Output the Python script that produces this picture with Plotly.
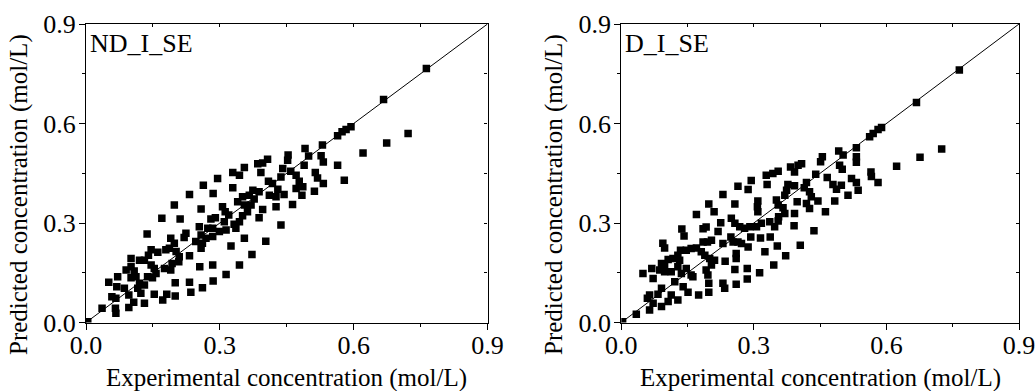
import plotly.graph_objects as go

FONT = "Liberation Serif"

nd_exp = [0.004, 0.594, 0.583, 0.574, 0.564, 0.530, 0.491, 0.499, 0.527, 0.532, 0.453, 0.452, 0.564, 0.579, 0.441, 0.459, 0.471, 0.489, 0.514, 0.519, 0.532, 0.478, 0.486, 0.471, 0.512, 0.484, 0.463, 0.437, 0.437, 0.418, 0.430, 0.444, 0.426, 0.411, 0.426, 0.409, 0.407, 0.396, 0.385, 0.355, 0.392, 0.329, 0.344, 0.295, 0.329, 0.285, 0.263, 0.232, 0.198, 0.258, 0.211, 0.170, 0.137, 0.374, 0.388, 0.366, 0.351, 0.377, 0.340, 0.355, 0.370, 0.362, 0.351, 0.344, 0.332, 0.336, 0.396, 0.388, 0.306, 0.312, 0.320, 0.290, 0.280, 0.310, 0.314, 0.299, 0.284, 0.273, 0.254, 0.258, 0.269, 0.284, 0.261, 0.258, 0.246, 0.224, 0.220, 0.190, 0.198, 0.187, 0.202, 0.209, 0.208, 0.232, 0.193, 0.190, 0.179, 0.161, 0.146, 0.140, 0.131, 0.120, 0.146, 0.153, 0.157, 0.149, 0.138, 0.131, 0.120, 0.116, 0.123, 0.101, 0.101, 0.090, 0.108, 0.112, 0.101, 0.086, 0.096, 0.071, 0.069, 0.051, 0.058, 0.067, 0.066, 0.067, 0.036, 0.096, 0.107, 0.131, 0.153, 0.172, 0.181, 0.200, 0.200, 0.232, 0.235, 0.261, 0.285, 0.255, 0.284, 0.314, 0.344, 0.325, 0.355, 0.372, 0.403, 0.176, 0.621, 0.674, 0.722, 0.667, 0.763]
nd_pred = [0.002, 0.590, 0.582, 0.575, 0.563, 0.535, 0.525, 0.502, 0.503, 0.484, 0.505, 0.489, 0.474, 0.429, 0.464, 0.456, 0.444, 0.474, 0.452, 0.436, 0.419, 0.426, 0.409, 0.404, 0.396, 0.384, 0.356, 0.294, 0.439, 0.419, 0.402, 0.386, 0.379, 0.384, 0.349, 0.426, 0.492, 0.481, 0.479, 0.467, 0.452, 0.452, 0.444, 0.434, 0.406, 0.389, 0.414, 0.386, 0.354, 0.342, 0.312, 0.314, 0.267, 0.399, 0.394, 0.384, 0.379, 0.372, 0.364, 0.354, 0.354, 0.334, 0.322, 0.304, 0.296, 0.284, 0.341, 0.316, 0.349, 0.334, 0.324, 0.316, 0.312, 0.304, 0.279, 0.274, 0.284, 0.284, 0.289, 0.264, 0.254, 0.259, 0.239, 0.224, 0.244, 0.269, 0.256, 0.254, 0.239, 0.224, 0.214, 0.198, 0.183, 0.201, 0.178, 0.158, 0.219, 0.212, 0.219, 0.203, 0.188, 0.188, 0.173, 0.163, 0.148, 0.135, 0.138, 0.113, 0.118, 0.103, 0.088, 0.193, 0.168, 0.158, 0.155, 0.138, 0.135, 0.103, 0.083, 0.138, 0.108, 0.121, 0.078, 0.073, 0.043, 0.028, 0.043, 0.045, 0.061, 0.058, 0.085, 0.068, 0.085, 0.080, 0.120, 0.121, 0.091, 0.105, 0.125, 0.168, 0.173, 0.145, 0.173, 0.231, 0.254, 0.205, 0.245, 0.163, 0.511, 0.541, 0.570, 0.672, 0.766]

d_exp = [0.003, 0.589, 0.581, 0.570, 0.562, 0.532, 0.492, 0.502, 0.532, 0.532, 0.455, 0.451, 0.565, 0.566, 0.581, 0.494, 0.500, 0.408, 0.400, 0.383, 0.392, 0.355, 0.343, 0.328, 0.294, 0.330, 0.287, 0.264, 0.230, 0.198, 0.257, 0.210, 0.170, 0.137, 0.142, 0.094, 0.098, 0.440, 0.419, 0.377, 0.374, 0.370, 0.392, 0.351, 0.355, 0.366, 0.370, 0.356, 0.355, 0.336, 0.347, 0.392, 0.391, 0.309, 0.308, 0.309, 0.317, 0.306, 0.291, 0.279, 0.268, 0.257, 0.249, 0.248, 0.253, 0.264, 0.272, 0.287, 0.293, 0.315, 0.337, 0.353, 0.325, 0.260, 0.260, 0.235, 0.230, 0.225, 0.219, 0.204, 0.195, 0.185, 0.185, 0.192, 0.170, 0.158, 0.147, 0.134, 0.128, 0.132, 0.117, 0.106, 0.098, 0.091, 0.087, 0.098, 0.113, 0.128, 0.136, 0.147, 0.158, 0.162, 0.181, 0.189, 0.200, 0.211, 0.204, 0.192, 0.196, 0.257, 0.285, 0.313, 0.345, 0.372, 0.405, 0.436, 0.462, 0.483, 0.513, 0.536, 0.532, 0.521, 0.498, 0.487, 0.479, 0.466, 0.414, 0.426, 0.430, 0.445, 0.419, 0.426, 0.398, 0.285, 0.260, 0.234, 0.230, 0.198, 0.198, 0.175, 0.151, 0.140, 0.128, 0.113, 0.106, 0.091, 0.072, 0.064, 0.064, 0.059, 0.034, 0.049, 0.069, 0.072, 0.091, 0.121, 0.083, 0.765, 0.668, 0.725, 0.676, 0.623]
d_pred = [0.002, 0.588, 0.582, 0.570, 0.560, 0.527, 0.517, 0.505, 0.500, 0.483, 0.500, 0.485, 0.454, 0.440, 0.422, 0.474, 0.462, 0.479, 0.474, 0.469, 0.454, 0.456, 0.449, 0.444, 0.428, 0.416, 0.401, 0.411, 0.386, 0.357, 0.357, 0.334, 0.326, 0.282, 0.261, 0.239, 0.225, 0.447, 0.422, 0.416, 0.399, 0.384, 0.412, 0.369, 0.354, 0.346, 0.329, 0.319, 0.306, 0.304, 0.289, 0.329, 0.292, 0.366, 0.349, 0.334, 0.299, 0.289, 0.289, 0.284, 0.289, 0.299, 0.314, 0.258, 0.243, 0.243, 0.238, 0.228, 0.258, 0.255, 0.258, 0.231, 0.213, 0.208, 0.193, 0.185, 0.238, 0.301, 0.274, 0.248, 0.243, 0.243, 0.283, 0.288, 0.225, 0.223, 0.218, 0.218, 0.203, 0.188, 0.193, 0.190, 0.173, 0.178, 0.158, 0.153, 0.153, 0.168, 0.148, 0.163, 0.143, 0.138, 0.213, 0.203, 0.193, 0.188, 0.173, 0.158, 0.143, 0.160, 0.163, 0.150, 0.173, 0.201, 0.233, 0.277, 0.334, 0.366, 0.384, 0.399, 0.422, 0.434, 0.414, 0.402, 0.416, 0.437, 0.406, 0.394, 0.379, 0.366, 0.359, 0.344, 0.364, 0.131, 0.115, 0.103, 0.118, 0.118, 0.091, 0.083, 0.091, 0.108, 0.068, 0.083, 0.063, 0.048, 0.058, 0.038, 0.083, 0.073, 0.025, 0.148, 0.163, 0.133, 0.103, 0.123, 0.085, 0.761, 0.663, 0.523, 0.498, 0.471]

panel_labels = ["ND_I_SE", "D_I_SE"]
x_title = "Experimental concentration (mol/L)"
y_title = "Predicted concentration (mol/L)"
tick_vals = [0.0, 0.3, 0.6, 0.9]
tick_text = ["0.0", "0.3", "0.6", "0.9"]
diag = [0.0, 0.9]

W, H = 1036, 391
# plot areas in pixels
L1, R1 = 86, 487.5
L2, R2 = 621.3, 1019
TOP, BOT = 24, 322.5
xd1 = [L1 / W, R1 / W]
xd2 = [L2 / W, R2 / W]
yd = [(H - BOT) / H, (H - TOP) / H]

fig = go.Figure()

for i, (xs, ys) in enumerate([(nd_exp, nd_pred), (d_exp, d_pred)]):
    xa = "x" if i == 0 else "x2"
    ya = "y" if i == 0 else "y2"
    fig.add_trace(go.Scatter(x=diag, y=diag, mode="lines",
                             line=dict(color="black", width=1),
                             xaxis=xa, yaxis=ya, showlegend=False, hoverinfo="skip"))
    fig.add_trace(go.Scatter(x=xs, y=ys, mode="markers",
                             marker=dict(symbol="square", size=7.5, color="black",
                                         line=dict(width=0)),
                             xaxis=xa, yaxis=ya, showlegend=False))

common = dict(range=[0, 0.9], showgrid=False, zeroline=False, showline=True,
              linecolor="black", linewidth=1.2, automargin=False)

def main_axis(domain, anchor, standoff):
    return dict(common, domain=domain, anchor=anchor, ticks="outside", ticklen=6,
                tickwidth=1.2, tickcolor="black", tickmode="array",
                tickvals=tick_vals, ticktext=tick_text,
                showticklabels=True,
                tickfont=dict(family=FONT, size=26, color="black"),
                ticklabelstandoff=standoff,
                minor=dict(dtick=0.15, tick0=0, ticks="outside", ticklen=3,
                           tickwidth=1, tickcolor="black"))

def mirror_axis(overlay, side):
    return dict(common, overlaying=overlay, side=side, ticks="inside", ticklen=3,
                tickwidth=1, tickcolor="black", dtick=0.15, tick0=0,
                showticklabels=False)

fig.update_layout(
    width=W, height=H, autosize=False,
    font=dict(family=FONT, size=26, color="black"),
    margin=dict(l=0, r=0, t=0, b=0, pad=0),
    paper_bgcolor="white", plot_bgcolor="white",
    xaxis=main_axis(xd1, "y", -7),
    yaxis=main_axis(yd, "x", -2),
    xaxis2=main_axis(xd2, "y2", -7),
    yaxis2=main_axis(yd, "x2", -2),
    xaxis3=dict(mirror_axis("x", "top"), anchor="y"),
    yaxis3=dict(mirror_axis("y", "right"), anchor="x"),
    xaxis4=dict(mirror_axis("x2", "top"), anchor="y2"),
    yaxis4=dict(mirror_axis("y2", "right"), anchor="x2"),
)
# empty traces so the mirrored tick axes render
fig.add_trace(go.Scatter(x=[None], y=[None], xaxis="x3", yaxis="y3", showlegend=False))
fig.add_trace(go.Scatter(x=[None], y=[None], xaxis="x4", yaxis="y4", showlegend=False))

annots = []
for lab, left in zip(panel_labels, [L1, L2]):
    annots.append(dict(text=lab, x=(left + 2) / W, y=(H - 27) / H, xref="paper", yref="paper",
                       xanchor="left", yanchor="top", showarrow=False,
                       font=dict(family=FONT, size=26, color="black")))
for left, right, ytx in [(L1, R1, 19), (L2, R2, 554)]:
    annots.append(dict(text=x_title, x=(left + right) / 2 / W, y=(H - 378) / H,
                       xref="paper", yref="paper", xanchor="center", yanchor="middle",
                       showarrow=False, font=dict(family=FONT, size=25, color="black")))
    annots.append(dict(text=y_title, x=ytx / W, y=(H - 195) / H, textangle=-90,
                       xref="paper", yref="paper", xanchor="center", yanchor="middle",
                       showarrow=False, font=dict(family=FONT, size=25, color="black")))
fig.update_layout(annotations=annots)

fig.write_html("out.html")
